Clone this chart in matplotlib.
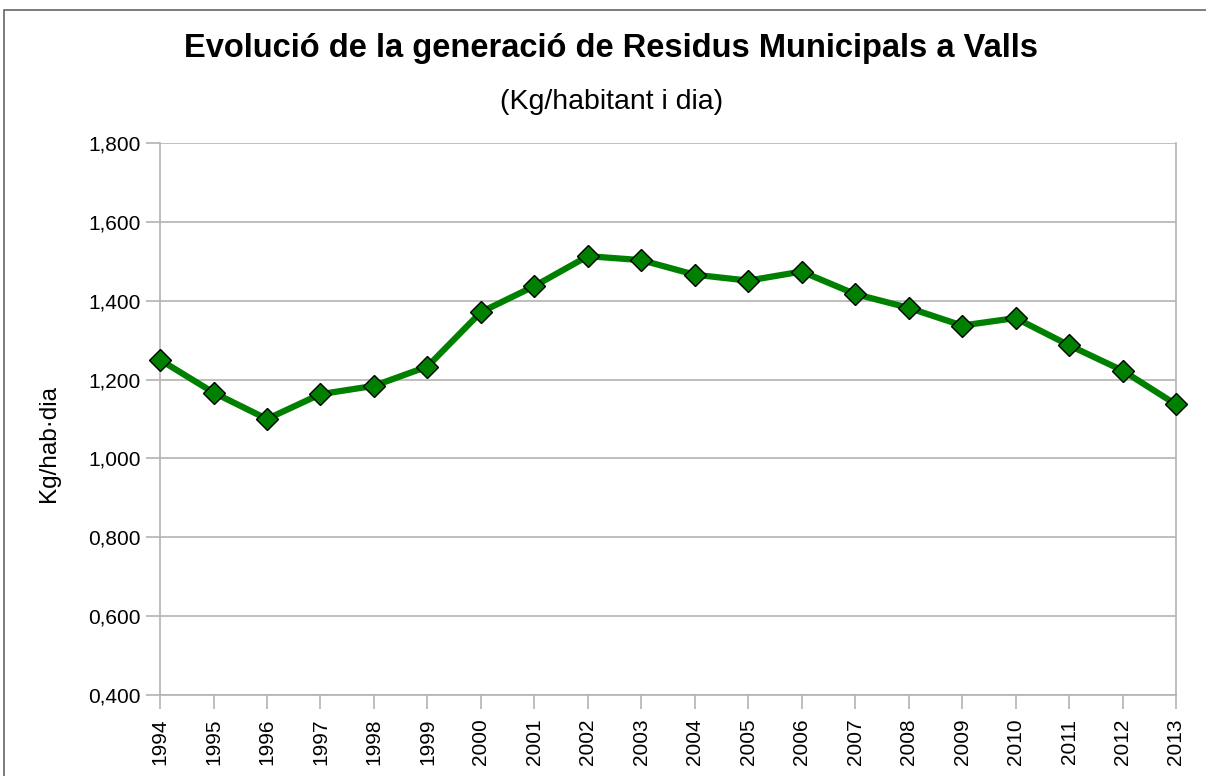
import matplotlib

matplotlib.use("Agg")

import matplotlib.pyplot as plt
from matplotlib.patches import Rectangle
from matplotlib.ticker import FuncFormatter

plt.rcParams["font.family"] = ["Liberation Sans", "DejaVu Sans"]

years = [str(y) for y in range(1994, 2014)]
kg_hab_dia = [
    1.250, 1.167, 1.100, 1.163, 1.184, 1.233, 1.371, 1.437, 1.513, 1.503,
    1.466, 1.451, 1.474, 1.417, 1.382, 1.337, 1.356, 1.287, 1.223, 1.137,
]
y_ticks = [0.4, 0.6, 0.8, 1.0, 1.2, 1.4, 1.6, 1.8]

GRID = "#b3b3b3"
GREEN = "#008000"

fig = plt.figure(figsize=(12.06, 7.76), dpi=100)
fig.patches.append(
    Rectangle((0.0035, -0.1), 1.2, 1.0871, transform=fig.transFigure,
              fill=False, edgecolor="#666666", lw=1.2)
)
ax = fig.add_axes([0.1327, 0.1044, 0.8424, 0.7113])

x = list(range(len(years)))
ax.plot(x, kg_hab_dia, color=GREEN, lw=4.5, marker="D", ms=11,
        mfc=GREEN, mec="black", mew=1.0, zorder=3, clip_on=False)

ax.set_xlim(0, len(years) - 1)
ax.set_ylim(0.4, 1.8)
ax.set_yticks(y_ticks)
ax.yaxis.set_major_formatter(
    FuncFormatter(lambda v, _: f"{v:.3f}".replace(".", ","))
)
ax.set_xticks(x)
ax.set_xticklabels(years, rotation=90)
ax.tick_params(axis="both", colors=GRID, labelcolor="black", labelsize=15,
               length=10, width=1.2)
ax.tick_params(axis="x", pad=7)
ax.tick_params(axis="y", pad=4)
ax.grid(axis="y", color=GRID, lw=1.2)
ax.set_axisbelow(True)
for s in ax.spines.values():
    s.set_color(GRID)
    s.set_linewidth(1.2)
ax.spines["top"].set_visible(False)

ax.set_ylabel("Kg/hab·dia", fontsize=17.5)
ax.yaxis.set_label_coords(-0.098, 0.455)

fig.text(0.507, 0.937, "Evolució de la generació de Residus Municipals a Valls",
         ha="center", va="center", fontsize=23.5, fontweight="bold")
fig.text(0.507, 0.869, "(Kg/habitant i dia)", ha="center", va="center",
         fontsize=20.5)

fig.savefig("out.png", dpi=100)
